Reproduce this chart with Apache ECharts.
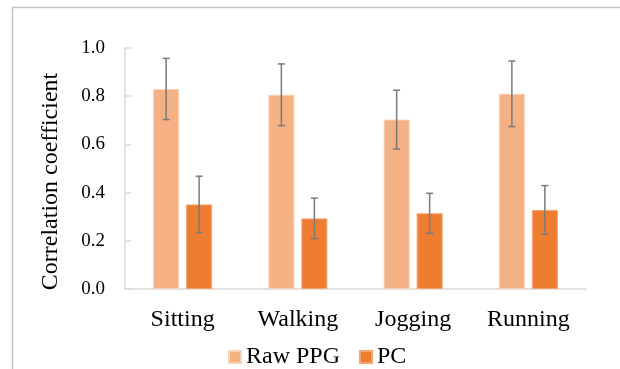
<!DOCTYPE html>
<html>
<head>
<meta charset="utf-8">
<script src="https://cdn.jsdelivr.net/npm/echarts@6/dist/echarts.min.js"></script>
<style>
  html, body { margin: 0; padding: 0; background: #fff; }
  #chart { width: 620px; height: 369px; }
</style>
</head>
<body>
<div id="chart"></div>
<script>
// Activities on the x axis
const categories = ['Sitting', 'Walking', 'Jogging', 'Running'];

// Mean correlation coefficient and its standard deviation
const rawPPG = [0.830, 0.806, 0.703, 0.810];
const rawPPGErr = [0.127, 0.128, 0.122, 0.136];
const pcValues = [0.351, 0.293, 0.314, 0.328];
const pcErr = [0.117, 0.084, 0.083, 0.101];

// Y axis ticks
const yMin = 0;
const yMax = 1.0;
const yStep = 0.2;

const serif = 'Liberation Serif, Times New Roman, serif';
const BAR_W = 26;
const BAR_GAP = 7;

// Error bar drawn as a vertical whisker with caps, shifted onto its bar
function errorBarSeries(name, means, errs, shift) {
  return {
    name: name + ' error',
    type: 'custom',
    silent: true,
    z: 5,
    data: categories.map((c, i) => [i, means[i] - errs[i], means[i] + errs[i]]),
    renderItem: function (params, api) {
      const lo = api.coord([api.value(0), api.value(1)]);
      const hi = api.coord([api.value(0), api.value(2)]);
      const x = lo[0] + shift;
      const cap = 3.5;
      const style = { stroke: '#7a7a7a', lineWidth: 1.5 };
      return {
        type: 'group',
        children: [
          { type: 'line', shape: { x1: x, y1: hi[1], x2: x, y2: lo[1] }, style: style },
          { type: 'line', shape: { x1: x - cap, y1: hi[1], x2: x + cap, y2: hi[1] }, style: style },
          { type: 'line', shape: { x1: x - cap, y1: lo[1], x2: x + cap, y2: lo[1] }, style: style }
        ]
      };
    }
  };
}

const chart = echarts.init(document.getElementById('chart'));
const half = (BAR_W + BAR_GAP) / 2;

chart.setOption({
  animation: false,
  backgroundColor: '#ffffff',
  graphic: [
    {
      type: 'polyline',
      silent: true,
      shape: { points: [[12.5, 369], [12.5, 7.5], [620, 7.5]] },
      style: { stroke: '#c4c4c4', lineWidth: 1.5, fill: null }
    }
  ],
  grid: { left: 125, right: 34, top: 48, bottom: 80 },
  legend: {
    data: ['Raw PPG', 'PC'],
    left: 223,
    top: 340,
    icon: 'rect',
    itemWidth: 12,
    itemHeight: 12,
    itemGap: 19,
    textStyle: { fontFamily: serif, fontSize: 24, color: '#000' }
  },
  xAxis: {
    type: 'category',
    data: categories,
    axisLine: { show: true, lineStyle: { color: '#d9d9d9', width: 1.5 } },
    axisTick: { show: false },
    axisLabel: { fontFamily: serif, fontSize: 24, color: '#000', margin: 19 }
  },
  yAxis: {
    type: 'value',
    min: yMin,
    max: yMax,
    interval: yStep,
    name: 'Correlation coefficient',
    nameLocation: 'middle',
    nameGap: 62,
    nameTextStyle: { fontFamily: serif, fontSize: 24, color: '#000', padding: [0, 26, 0, 0] },
    axisLine: { show: true, lineStyle: { color: '#d9d9d9', width: 1.5 } },
    axisTick: { show: true, inside: true, length: 6, lineStyle: { color: '#d9d9d9', width: 1.5 } },
    splitLine: { show: false },
    axisLabel: {
      fontFamily: serif, fontSize: 19, color: '#000', margin: 20,
      formatter: v => v.toFixed(1)
    }
  },
  series: [
    {
      name: 'Raw PPG',
      type: 'bar',
      data: rawPPG,
      barWidth: BAR_W,
      barGap: (BAR_GAP / BAR_W * 100) + '%',
      itemStyle: { color: '#F4B183', borderColor: '#f9d2b5', borderWidth: 1 }
    },
    {
      name: 'PC',
      type: 'bar',
      data: pcValues,
      barWidth: BAR_W,
      itemStyle: { color: '#ED7D31', borderColor: '#f4a46e', borderWidth: 1 }
    },
    errorBarSeries('Raw PPG', rawPPG, rawPPGErr, -half),
    errorBarSeries('PC', pcValues, pcErr, half)
  ]
});
</script>
</body>
</html>
